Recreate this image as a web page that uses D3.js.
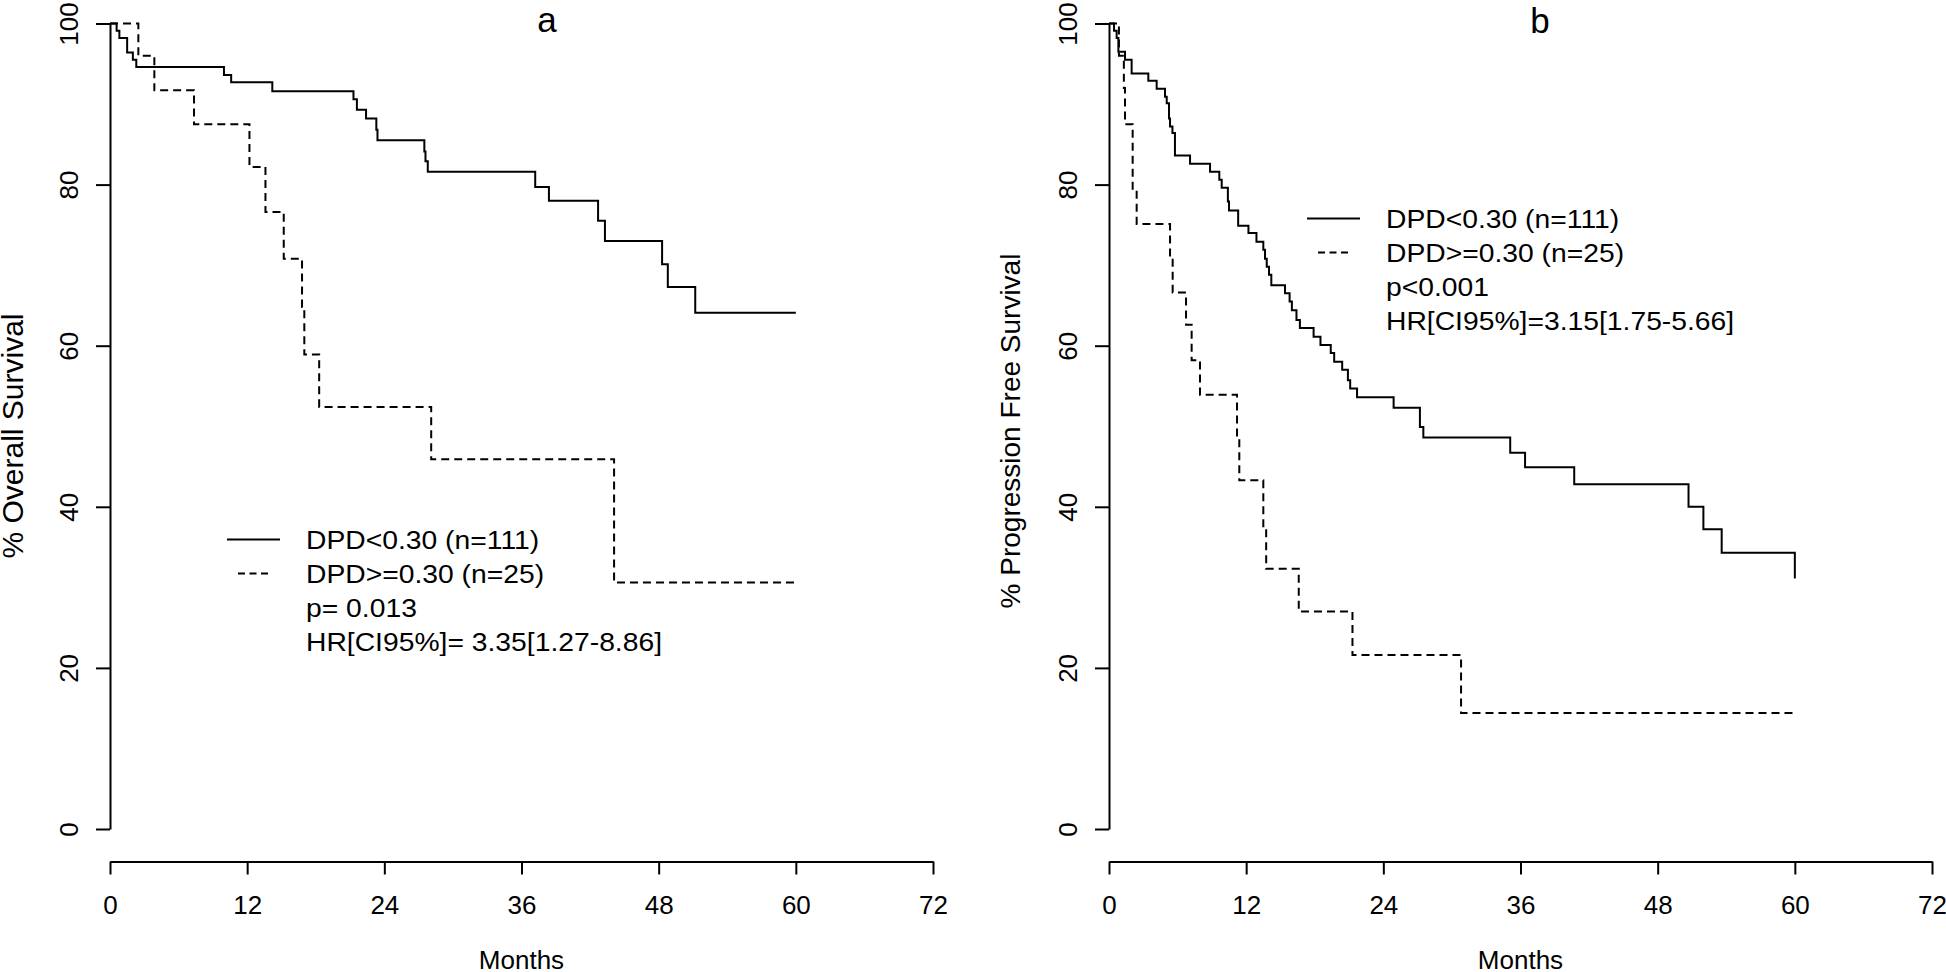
<!DOCTYPE html>
<html><head><meta charset="utf-8">
<script src="https://cdn.jsdelivr.net/npm/d3@7"></script>
<style>
html,body{margin:0;padding:0;background:#fff;}
svg{display:block;background:#fff;}
text{font-family:"Liberation Sans",Arial,Helvetica,sans-serif;fill:#000;}
</style></head><body>
<svg id="chart" width="1946" height="972"></svg>
<script>
// ---- data ----
const monthTicks = [0, 12, 24, 36, 48, 60, 72];
const pctTicks = [0, 20, 40, 60, 80, 100];

// Panel a: Overall survival
const osLowTime  = [0, 0.58, 0.82, 1.5, 2.0, 2.3, 9.97, 10.6, 14.2, 21.3, 21.6, 22.4, 23.3, 23.4, 27.5, 27.6, 27.8, 37.2, 38.4, 42.7, 43.3, 48.3, 48.8, 51.2, 60];
const osLowSurv  = [100, 99.1, 98.2, 96.4, 95.5, 94.6, 93.6, 92.7, 91.6, 90.6, 89.3, 88.2, 86.8, 85.5, 84.1, 82.9, 81.6, 79.7, 78.0, 75.5, 73.0, 70.1, 67.3, 64.1, 64.1];
const osHighTime = [0, 2.48, 3.88, 7.35, 12.2, 13.6, 15.2, 16.8, 17.0, 18.3, 28.1, 44.1, 60];
const osHighSurv = [100, 96.0, 91.7, 87.5, 82.2, 76.6, 70.8, 64.8, 58.9, 52.4, 45.9, 30.6, 30.6];

// Panel b: Progression free survival
const pfsLowTime = [0, 0.44, 0.67, 0.82, 1.4, 1.98, 3.44, 4.17, 4.9, 5.05, 5.25, 5.34, 5.55, 5.77, 7.09, 8.84, 9.65, 9.86, 10.4, 10.5, 11.3, 12.2, 12.9, 13.5, 13.65, 13.8, 14.0, 14.2, 15.4, 15.8, 16.0, 16.4, 16.7, 17.9, 18.5, 19.4, 19.7, 20.4, 20.9, 21.1, 21.7, 24.9, 27.2, 27.5, 35.1, 36.4, 40.7, 50.7, 52.0, 53.6, 60];
const pfsLowSurv = [100, 99.1, 98.2, 96.5, 95.5, 93.8, 92.9, 91.9, 90.9, 90.1, 88.2, 87.2, 86.4, 83.6, 82.6, 81.6, 80.6, 79.6, 77.9, 76.8, 74.9, 74.0, 72.9, 71.9, 70.8, 69.8, 68.8, 67.5, 66.5, 65.5, 64.4, 63.2, 62.2, 61.1, 60.1, 59.1, 58.0, 57.0, 55.7, 54.7, 53.6, 52.3, 49.9, 48.6, 46.7, 44.9, 42.8, 40.0, 37.2, 34.3, 31.1];
const pfsHighTime = [0, 0.87, 1.3, 1.4, 2.07, 2.42, 5.34, 5.57, 6.74, 7.23, 7.96, 11.2, 11.4, 13.5, 13.75, 16.6, 21.3, 30.8, 60];
const pfsHighSurv = [100, 96, 92, 87.5, 79.1, 75.1, 70.8, 66.6, 62.6, 58.2, 53.9, 48.5, 43.3, 37.6, 32.3, 27.0, 21.6, 14.4, 14.4];

const legendA = ["DPD<0.30 (n=111)", "DPD>=0.30 (n=25)", "p= 0.013", "HR[CI95%]= 3.35[1.27-8.86]"];
const legendB = ["DPD<0.30 (n=111)", "DPD>=0.30 (n=25)", "p<0.001", "HR[CI95%]=3.15[1.75-5.66]"];
const titles = ["a", "b"];
const yLabels = ["% Overall Survival", "% Progression Free Survival"];
const xLabel = "Months";

// ---- layout ----
const zip = (t, s) => t.map((v, i) => [v, s[i]]);
const panels = [
  {left: 110, titleX: 547, titleY: 32, ylabX: 23, ylabY: 436, ylabSize: 30, legX: 227, legY: 549, title: titles[0], ylab: yLabels[0],
   low: zip(osLowTime, osLowSurv), high: zip(osHighTime, osHighSurv), legend: legendA},
  {left: 1109, titleX: 1540, titleY: 33, ylabX: 1020, ylabY: 431, ylabSize: 28, legX: 1307, legY: 228, title: titles[1], ylab: yLabels[1],
   low: zip(pfsLowTime, pfsLowSurv), high: zip(pfsHighTime, pfsHighSurv), legend: legendB}
];
const plotW = 823, yTop = 23.5, yBot = 829, xAxisY = 861.5;
const svg = d3.select("#chart");

panels.forEach(p => {
  const g = svg.append("g");
  const x = d3.scaleLinear().domain([0, 72]).range([p.left, p.left + plotW]);
  const y = d3.scaleLinear().domain([0, 100]).range([yBot, yTop]);

  // x axis
  const gx = g.append("g").attr("transform", `translate(0,${xAxisY})`)
    .call(d3.axisBottom(x).tickValues(monthTicks).tickSize(13).tickSizeOuter(0))
    .attr("font-size", null).attr("font-family", null);
  gx.selectAll("path,line").attr("stroke", "#000").attr("stroke-width", 2);
  gx.selectAll("text").attr("y", 52.5).attr("dy", null).style("font-size", "26px");

  // y axis
  const gy = g.append("g").attr("transform", `translate(${p.left},0)`)
    .call(d3.axisLeft(y).tickValues(pctTicks).tickSize(14).tickSizeOuter(0))
    .attr("font-size", null).attr("font-family", null);
  gy.selectAll("path,line").attr("stroke", "#000").attr("stroke-width", 2);
  gy.selectAll("text").attr("x", 0).attr("y", 0).attr("dy", null)
    .attr("text-anchor", "middle")
    .attr("transform", "translate(-32,0) rotate(-90)")
    .style("font-size", "26px");

  // axis titles
  g.append("text").attr("x", x(36)).attr("y", 968.5).attr("text-anchor", "middle")
    .style("font-size", "26px").text(xLabel);
  g.append("text").attr("transform", `translate(${p.ylabX},${p.ylabY}) rotate(-90)`)
    .attr("text-anchor", "middle").style("font-size", p.ylabSize + "px").text(p.ylab);
  g.append("text").attr("x", p.titleX).attr("y", p.titleY).attr("text-anchor", "middle")
    .style("font-size", "35px").text(p.title);

  // curves
  const line = d3.line().x(d => x(d[0])).y(d => y(d[1])).curve(d3.curveStepAfter);
  g.append("path").datum(p.low).attr("d", line).attr("fill", "none")
    .attr("stroke", "#000").attr("stroke-width", 2);
  g.append("path").datum(p.high).attr("d", line).attr("fill", "none")
    .attr("stroke", "#000").attr("stroke-width", 2).attr("stroke-dasharray", "8,5");

  // legend
  const lg = g.append("g");
  const lineY0 = p.legY - 9.5, rowH = 34.1;
  lg.append("line").attr("x1", p.legX).attr("x2", p.legX + 53)
    .attr("y1", lineY0).attr("y2", lineY0).attr("stroke", "#000").attr("stroke-width", 2);
  lg.append("line").attr("x1", p.legX + 11).attr("x2", p.legX + 41)
    .attr("y1", lineY0 + rowH).attr("y2", lineY0 + rowH).attr("stroke", "#000")
    .attr("stroke-width", 2).attr("stroke-dasharray", "7,4.5");
  const tg = lg.append("g").attr("transform", `translate(${p.legX + 79},${p.legY}) scale(1.088,1)`);
  tg.selectAll("text").data(p.legend).join("text")
    .attr("x", 0).attr("y", (d, i) => i * rowH)
    .style("font-size", "26px").text(d => d);
});
</script></body></html>
